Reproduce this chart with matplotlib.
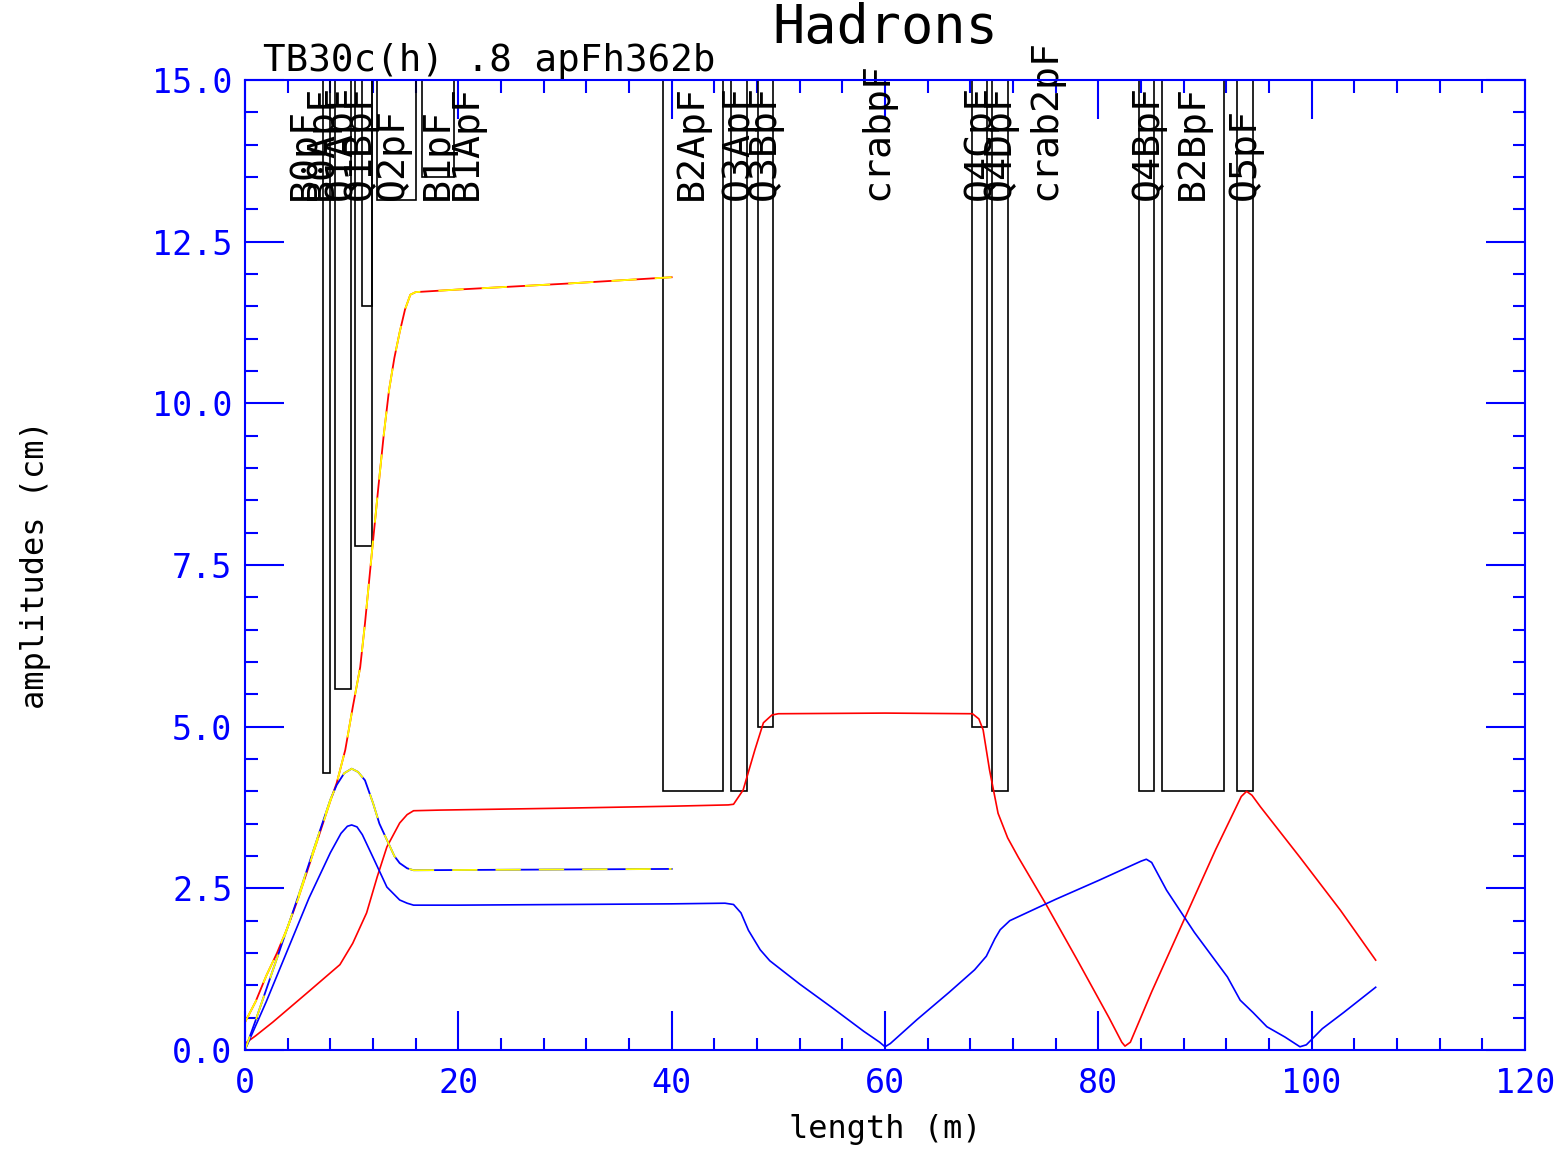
import numpy as np
import matplotlib
matplotlib.use("Agg")
import matplotlib.pyplot as plt
from matplotlib.patches import Rectangle

plt.rcParams['font.family'] = ['DejaVu Sans Mono', 'DejaVu Sans']

# beam amplitudes along the line (length in m, amplitude in cm)
bx_s = [0, 1, 2.6, 5.8, 8.9, 10.1, 11.4, 12.4, 13.3, 14.5, 15.2, 15.8, 18.3, 30, 40, 45.3, 45.8, 46.7, 47.8,
        48.6, 49.4, 50, 60, 68.2, 68.8, 69.2, 69.8, 70.6, 71.5, 72.5, 75, 78, 81, 82.2, 82.5, 83, 85, 88, 91,
        93.4, 93.9, 94.4, 95.2, 98.9, 102.7, 106]
bx_a = [0.1, 0.22, 0.43, 0.88, 1.32, 1.65, 2.12, 2.68, 3.14, 3.51, 3.64, 3.70, 3.71, 3.74, 3.77, 3.79, 3.80, 4.02, 4.64,
        5.06, 5.18, 5.2, 5.21, 5.2, 5.12, 4.95, 4.33, 3.66, 3.28, 2.98, 2.28, 1.4, 0.5, 0.12, 0.06, 0.12, 0.9, 2.0, 3.1,
        3.92, 4.0, 3.94, 3.76, 2.98, 2.16, 1.39]

by_s = [0, 2, 4, 6, 8, 9, 9.6, 10, 10.5, 11, 12, 13.3, 14.5, 15.2, 15.8, 20, 30, 40, 45, 45.8, 46.5, 47.2,
        48.3, 49.2, 52, 55, 58, 59.5, 60, 60.5, 63, 66, 68.4, 69.5, 70.3, 70.8, 71.7, 76, 80, 84, 84.5,
        85, 86.4, 89, 92.1, 93.3, 94.5, 95.8, 97.5, 98.9, 99.5, 101, 103, 106]
by_a = [0, 0.75, 1.55, 2.35, 3.05, 3.35, 3.46, 3.48, 3.45, 3.33, 2.98, 2.52, 2.32, 2.27, 2.24, 2.24, 2.25, 2.26, 2.27,
        2.25, 2.12, 1.85, 1.55, 1.38, 1.02, 0.66, 0.29, 0.12, 0.05, 0.1, 0.47, 0.89, 1.24, 1.45, 1.72, 1.86,
        2.0, 2.33, 2.62, 2.92, 2.95, 2.9, 2.47, 1.82, 1.13, 0.77, 0.58, 0.36, 0.2, 0.05, 0.08, 0.33, 0.58, 0.97]

# upper envelopes (only up to 40 m)
xmax_s = [0, 1, 2, 3, 4, 5, 6, 7, 8, 8.6, 9.4, 10.1, 10.8, 11.25, 11.9, 12.5, 13.0, 13.5, 14, 14.5,
          15.0, 15.5, 16, 20, 30, 40]
xmax_a = [0.43, 0.75, 1.15, 1.5, 1.9, 2.35, 2.85, 3.35, 3.85, 4.13, 4.64, 5.3, 5.92, 6.6, 7.7, 8.7,
          9.5, 10.2, 10.7, 11.1, 11.45, 11.68, 11.72, 11.76, 11.85, 11.95]

ymax_s = [0, 1, 2, 3, 4, 5, 6, 7, 8, 8.6, 9.3, 10, 10.6, 11.25, 12, 12.6, 13.3, 14, 14.5, 15.2, 15.8, 40]
ymax_a = [0, 0.46, 0.94, 1.42, 1.9, 2.38, 2.88, 3.38, 3.87, 4.1, 4.28, 4.35, 4.3, 4.17, 3.82, 3.5,
          3.25, 3.0, 2.89, 2.81, 2.78, 2.8]

# lattice elements: name, start (m), end (m), lower edge of box (cm)
elem_names = ['B0pF', 'B0ApF', 'Q1ApF', 'Q1BpF', 'Q2pF', 'B1pF', 'B2ApF', 'Q3ApF', 'Q3BpF',
              'Q4CpF', 'Q4DpF', 'Q4BpF', 'B2BpF', 'Q5pF']
elem_start = [7.31, 8.47, 10.28, 11.0, 12.37, 16.59, 39.2, 45.56, 48.1, 68.16, 70.03, 83.8, 86.0, 93.0]
elem_end = [7.97, 9.96, 11.9, 11.9, 16.03, 19.59, 44.8, 47.06, 49.5, 69.56, 71.53, 85.2, 91.8, 94.5]
elem_low = [4.28, 5.58, 7.8, 11.5, 13.15, 13.5, 4.0, 4.0, 5.0, 5.0, 4.0, 4.0, 4.0, 4.0]

# labels written above the elements
label_names = ['B0pF', 'B0ApF', 'Q1ApF', 'Q1BpF', 'Q2pF', 'B1pF', 'B1ApF', 'B2ApF', 'Q3ApF', 'Q3BpF',
               'crabpF', 'Q4CpF', 'Q4DpF', 'crab2pF', 'Q4BpF', 'B2BpF', 'Q5pF']
label_pos = [5.6, 7.2, 9.0, 10.8, 13.9, 18.1, 20.8, 41.9, 46.2, 48.75, 59.3, 68.9, 70.8, 75.0,
             84.6, 88.9, 93.75]

fig = plt.figure(figsize=(15.62, 11.51), dpi=100)
ax = fig.add_axes([245 / 1562, 101 / 1151, 1280 / 1562, 970 / 1151])

for i in range(len(elem_names)):
    r = Rectangle((elem_start[i], elem_low[i]), elem_end[i] - elem_start[i], 15 - elem_low[i],
                  fill=False, edgecolor='black', linewidth=1.2, zorder=2)
    ax.add_patch(r)

for i in range(len(label_names)):
    ax.text(label_pos[i], 13.15, label_names[i], rotation=90, ha='center', va='bottom',
            fontsize=27.5, color='black', clip_on=False, zorder=3)

ax.plot(bx_s, bx_a, color='red', linewidth=1.2, zorder=4)
ax.plot(by_s, by_a, color='blue', linewidth=1.2, zorder=4)
ax.plot(xmax_s, xmax_a, color='red', linewidth=1.3, zorder=4)
ax.plot(xmax_s, xmax_a, color='yellow', linewidth=1.3, linestyle=(0, (14, 10)), zorder=5)
ax.plot(ymax_s, ymax_a, color='blue', linewidth=1.3, zorder=4)
ax.plot(ymax_s, ymax_a, color='yellow', linewidth=1.3, linestyle=(6, (14, 10)), zorder=5)

ax.set_xlim(0, 120)
ax.set_ylim(0, 15)
ax.set_xticks(np.arange(0, 121, 20))
ax.set_xticks(np.arange(0, 121, 4), minor=True)
ax.set_yticks(np.arange(0, 15.1, 2.5))
ax.set_yticks(np.arange(0, 15.1, 0.5), minor=True)
ax.set_xticklabels(['0', '20', '40', '60', '80', '100', '120'])
ax.set_yticklabels(['%.1f' % v for v in np.arange(0, 15.1, 2.5)])

ax.tick_params(which='both', direction='in', top=True, right=True, color='blue',
               labelcolor='blue', labelsize=24, width=1.5)
ax.tick_params(which='major', length=28)
ax.tick_params(which='minor', length=9)
ax.tick_params(axis='x', pad=12)
ax.tick_params(axis='y', pad=9)
for sp in ax.spines.values():
    sp.set_color('blue')
    sp.set_linewidth(1.5)
    sp.set_zorder(6)

ax.set_xlabel('length (m)', fontsize=23, color='black', labelpad=10)
ax.set_ylabel('amplitudes (cm)', fontsize=23, color='black', labelpad=73)

fig.text(885 / 1562, 1 - 28 / 1151, 'Hadrons', ha='center', va='center', fontsize=38.5)
fig.text(263 / 1562, 1 - 71 / 1151, 'TB30c(h) .8 apFh362b', ha='left', va='baseline', fontsize=27)

fig.savefig('out.png', dpi=100)
